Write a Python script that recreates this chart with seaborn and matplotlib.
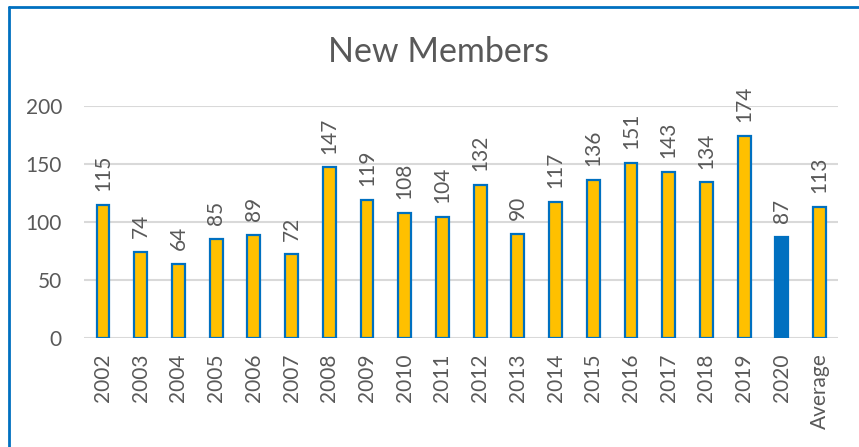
import matplotlib
matplotlib.use("Agg")
import matplotlib.pyplot as plt
import seaborn as sns
import pandas as pd
from matplotlib.lines import Line2D

categories = ["2002", "2003", "2004", "2005", "2006", "2007", "2008", "2009", "2010",
              "2011", "2012", "2013", "2014", "2015", "2016", "2017", "2018", "2019",
              "2020", "Average"]
values = [115, 74, 64, 85, 89, 72, 147, 119, 108, 104, 132, 90, 117, 136, 151, 143,
          134, 174, 87, 113]
highlight = "2020"

gold = "#FFC000"
blue = "#0070C0"
text_col = "#595959"

sns.set_theme(style="white")
plt.rcParams['font.family'] = ['Lato', 'DejaVu Sans']

fig = plt.figure(figsize=(8.59, 4.47), dpi=100)
ax = fig.add_axes([0.098, 0.244, 0.878, 0.519])

df = pd.DataFrame({"cat": categories, "val": values})
palette = {c: (blue if c == highlight else gold) for c in categories}
sns.barplot(data=df, x="cat", y="val", hue="cat", palette=palette, legend=False,
            width=0.34, ax=ax, saturation=1)
for p in ax.patches:
    p.set_edgecolor(blue)
    p.set_linewidth(1.6)

for cont in ax.containers:
    ax.bar_label(cont, labels=[f"{v:.0f}" for v in cont.datavalues], rotation=90,
                 padding=10, fontsize=15, color=text_col, clip_on=False)

ax.set_ylim(0, 200)
ax.set_yticks([0, 50, 100, 150, 200])
ax.set_xlim(-0.5, len(categories) - 0.5)
ax.yaxis.grid(True, color="#D9D9D9", linewidth=1.5)
ax.set_axisbelow(True)
for s in ["top", "right", "left", "bottom"]:
    ax.spines[s].set_visible(False)
ax.tick_params(axis="x", labelrotation=90, labelsize=15, colors=text_col, length=0, pad=11)
ax.tick_params(axis="y", labelsize=15, colors=text_col, length=0, pad=16)
ax.set_xlabel("")
ax.set_ylabel("")

fig.text(0.511, 0.884, "New Members", ha="center", va="center", fontsize=24.5, color=text_col)

# outer border (left and top visible)
fig.add_artist(Line2D([8.5/859, 8.5/859], [0, 1 - 6.5/447], transform=fig.transFigure,
                      color=blue, linewidth=2))
fig.add_artist(Line2D([8.5/859, 1], [1 - 6.5/447, 1 - 6.5/447], transform=fig.transFigure,
                      color=blue, linewidth=2))

fig.savefig("out.png", dpi=100)
